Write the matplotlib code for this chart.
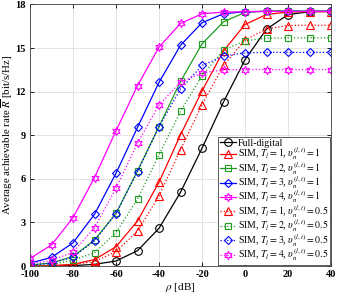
import matplotlib
matplotlib.use("Agg")
import matplotlib.pyplot as plt

plt.rcParams['font.family'] = ['Liberation Serif', 'DejaVu Serif']
plt.rcParams['mathtext.fontset'] = 'stix'

rho_db = [-100, -90, -80, -70, -60, -50, -40, -30, -20, -10, 0, 10, 20, 30, 40]

full_digital = [0.0, 0.01, 0.03, 0.12, 0.35, 1.06, 2.6, 5.08, 8.11, 11.29, 14.2, 16.3, 17.3, 17.5, 17.52]

# v = 1
sim_t1_v1 = [0.0, 0.03, 0.12, 0.45, 1.33, 3.1, 5.77, 9.03, 12.05, 14.8, 16.62, 17.31, 17.48, 17.5, 17.5]
sim_t2_v1 = [0.07, 0.22, 0.66, 1.79, 3.63, 6.55, 9.6, 12.7, 15.29, 16.8, 17.45, 17.55, 17.55, 17.55, 17.55]
sim_t3_v1 = [0.2, 0.6, 1.6, 3.56, 6.39, 9.54, 12.64, 15.19, 16.74, 17.36, 17.5, 17.52, 17.52, 17.52, 17.52]
sim_t4_v1 = [0.53, 1.45, 3.33, 6.09, 9.31, 12.41, 15.06, 16.69, 17.36, 17.47, 17.5, 17.52, 17.52, 17.52, 17.52]

# v = 0.5
sim_t1_v05 = [0.0, 0.02, 0.09, 0.33, 0.99, 2.41, 4.83, 8.0, 11.1, 13.8, 15.55, 16.32, 16.55, 16.57, 16.57]
sim_t2_v05 = [0.02, 0.1, 0.41, 0.92, 2.3, 4.6, 7.66, 10.64, 13.1, 14.85, 15.5, 15.68, 15.7, 15.7, 15.7]
sim_t3_v05 = [0.06, 0.2, 0.62, 1.75, 3.6, 6.5, 9.6, 12.18, 13.8, 14.44, 14.67, 14.7, 14.7, 14.7, 14.7]
sim_t4_v05 = [0.15, 0.4, 0.95, 2.64, 5.36, 8.46, 11.08, 12.64, 13.29, 13.5, 13.52, 13.52, 13.52, 13.52, 13.52]

x_ticks = [-100, -80, -60, -40, -20, 0, 20, 40]
y_ticks = [0, 3, 6, 9, 12, 15, 18]

red = '#ff0000'
green = '#1f9e1f'
blue = '#0000ff'
magenta = '#ff00ff'
hexagram = (6, 1, 0)

fig = plt.figure(figsize=(3.39, 2.95), dpi=100)
ax = fig.add_axes([0.0885, 0.098, 0.888, 0.887])

common = dict(lw=0.9, fillstyle='none', mew=0.8)
ax.plot(rho_db, full_digital, color='k', marker='o', ms=5.5, label='Full-digital', **common)

series = [
    (sim_t1_v1, red, '^', 6, '-', '1', '1'),
    (sim_t2_v1, green, 's', 4.5, '-', '2', '1'),
    (sim_t3_v1, blue, 'D', 4.3, '-', '3', '1'),
    (sim_t4_v1, magenta, hexagram, 6, '-', '4', '1'),
    (sim_t1_v05, red, '^', 6, ':', '1', '0.5'),
    (sim_t2_v05, green, 's', 4.5, ':', '2', '0.5'),
    (sim_t3_v05, blue, 'D', 4.3, ':', '3', '0.5'),
    (sim_t4_v05, magenta, hexagram, 6, ':', '4', '0.5'),
]
for vals, c, m, ms, ls, t, v in series:
    lab = r'SIM, $T_l = %s$, $\upsilon_n^{(l,t)} = %s$' % (t, v)
    ax.plot(rho_db, vals, color=c, marker=m, ms=ms, ls=ls, label=lab, **common)

ax.set_xlim(-100, 40)
ax.set_ylim(0, 18)
ax.set_xticks(x_ticks)
ax.set_yticks(y_ticks)
ax.set_xticklabels([str(t) for t in x_ticks], fontweight='bold', fontsize=7.5)
ax.set_yticklabels([str(t) for t in y_ticks], fontweight='bold', fontsize=7.5)
ax.tick_params(direction='in', length=3, width=0.6, top=True, right=True, pad=3)
ax.grid(True, color='#dedede', lw=0.6)
ax.set_axisbelow(True)
for sp in ax.spines.values():
    sp.set_linewidth(0.6)
    sp.set_color('#404040')

ax.set_xlabel(r'$\rho$ [dB]', fontsize=8, labelpad=1)
ax.set_ylabel(r'Average achievable rate $\overline{R}$ [bit/s/Hz]', fontsize=7.8)
ax.yaxis.set_label_coords(-0.05, 0.5)

leg = ax.legend(loc='lower right', fontsize=7.1, handlelength=1.6, handletextpad=0.15,
                labelspacing=-0.22, borderpad=0.2, borderaxespad=0.1, fancybox=False,
                framealpha=1, edgecolor='#404040')
leg.get_frame().set_linewidth(0.6)

fig.savefig('out.png', dpi=100)
